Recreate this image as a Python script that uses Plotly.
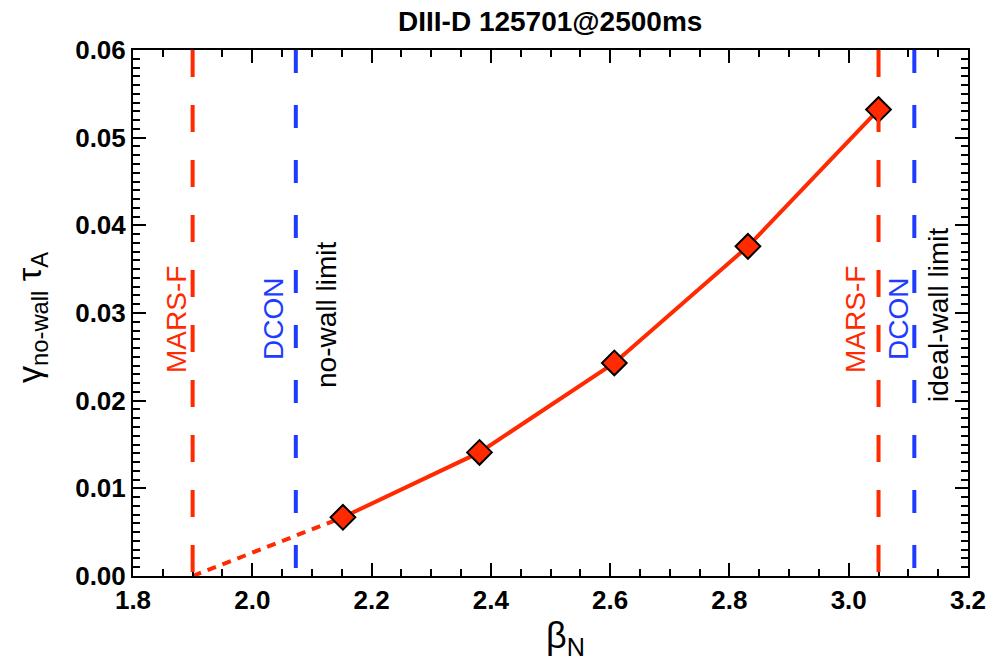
import plotly.graph_objects as go

# Data
beta_n = [2.152, 2.381, 2.607, 2.831, 3.05]
gamma_tau = [0.0067, 0.0141, 0.0243, 0.0376, 0.0532]
extrap_x = [1.90, 2.152]
extrap_y = [0.0, 0.0067]

mars_limits = [1.90, 3.05]
dcon_limits = [2.073, 3.11]

title_text = "DIII-D 125701@2500ms"

RED = "rgb(255,42,0)"
BLUE = "rgb(30,60,255)"
FONT = "Liberation Sans, Arial, sans-serif"

fig = go.Figure()

# vertical limit lines
for xv in mars_limits:
    fig.add_shape(type="line", xref="x", yref="y", x0=xv, x1=xv, y0=0.06, y1=0.0,
                  line=dict(color=RED, width=4, dash="27px,28px"))
for xv in dcon_limits:
    fig.add_shape(type="line", xref="x", yref="y", x0=xv, x1=xv, y0=0.06, y1=0.0,
                  line=dict(color=BLUE, width=4, dash="23px,32px"))

fig.add_trace(go.Scatter(x=extrap_x, y=extrap_y, mode="lines",
                         line=dict(color=RED, width=4, dash="9px,7px"),
                         showlegend=False, hoverinfo="skip"))
fig.add_trace(go.Scatter(x=beta_n, y=gamma_tau, mode="lines+markers",
                         line=dict(color=RED, width=4),
                         marker=dict(symbol="diamond", size=19, color=RED,
                                     line=dict(color="black", width=2)),
                         showlegend=False))

axis_common = dict(showline=True, linecolor="black", linewidth=2, mirror="allticks",
                   ticks="inside", ticklen=13, tickwidth=2, tickcolor="black",
                   showgrid=False, zeroline=False,
                   tickfont=dict(family=FONT, size=26, color="black", weight="bold"))

fig.update_xaxes(range=[1.8, 3.2], tickvals=[1.8, 2.0, 2.2, 2.4, 2.6, 2.8, 3.0, 3.2],
                 tickformat=".1f",
                 minor=dict(dtick=0.05, ticks="inside", ticklen=7, tickwidth=2, tickcolor="black"),
                 **axis_common)
fig.update_yaxes(range=[0, 0.06], tickvals=[0, 0.01, 0.02, 0.03, 0.04, 0.05, 0.06],
                 tickformat=".2f",
                 minor=dict(dtick=0.001, ticks="inside", ticklen=7, tickwidth=2, tickcolor="black"),
                 **axis_common)

# text labels (paper coords via pixel -> fraction)
W, H = 1003, 661
L, R, T, B = 133, 35, 50, 85
pw, ph = W - L - R, H - T - B

def px(xp):
    return (xp - L) / pw

def py(yp):
    return 1 - (yp - T) / ph

labels = [
    ("MARS-F", 176, 320, RED, 28),
    ("DCON", 273, 319, BLUE, 28),
    ("no-wall limit", 326, 315, "black", 28),
    ("MARS-F", 855, 320, RED, 28),
    ("DCON", 898, 319, BLUE, 28),
    ("ideal-wall limit", 938, 315, "black", 28),
]
for txt, xp, yp, col, sz in labels:
    fig.add_annotation(x=px(xp), y=py(yp), xref="paper", yref="paper", text=txt,
                       textangle=-90, showarrow=False, xanchor="center", yanchor="middle",
                       font=dict(family=FONT, size=sz, color=col))

# title
fig.add_annotation(x=px(550), y=py(22), xref="paper", yref="paper", text=title_text,
                   showarrow=False, xanchor="center", yanchor="middle",
                   font=dict(family=FONT, size=28, color="black", weight="bold"))
# axis titles
fig.add_annotation(x=px(31), y=py(318), xref="paper", yref="paper",
                   text="γ<sub>no-wall</sub> τ<sub>A</sub>",
                   textangle=-90, showarrow=False, xanchor="center", yanchor="middle",
                   font=dict(family=FONT, size=34, color="black"))
fig.add_annotation(x=px(565), y=py(638), xref="paper", yref="paper",
                   text="β<sub>N</sub>",
                   showarrow=False, xanchor="center", yanchor="middle",
                   font=dict(family=FONT, size=36, color="black"))

fig.update_layout(width=W, height=H, margin=dict(l=L, r=R, t=T, b=B),
                  plot_bgcolor="white", paper_bgcolor="white")

fig.write_html("out.html")
